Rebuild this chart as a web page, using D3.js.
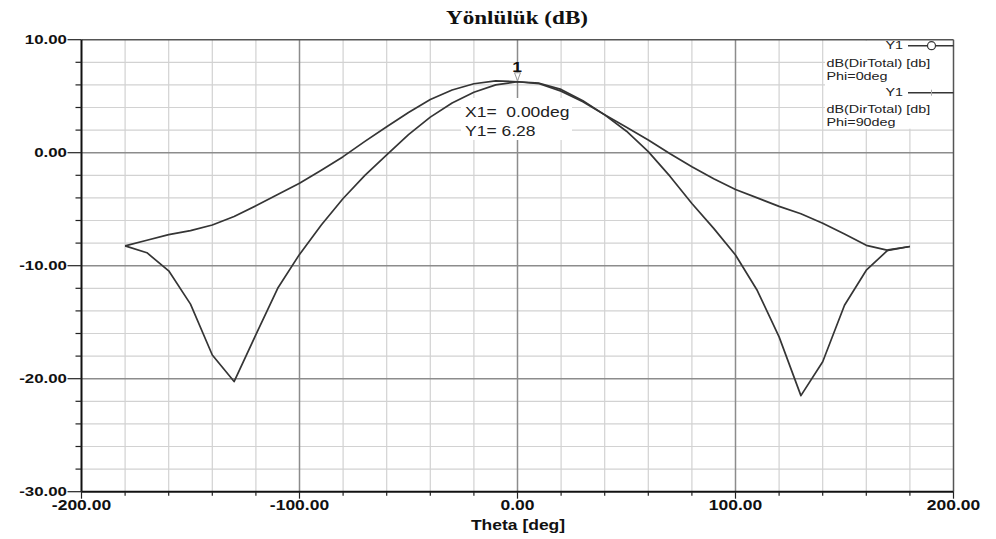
<!DOCTYPE html>
<html>
<head>
<meta charset="utf-8">
<script src="https://cdn.jsdelivr.net/npm/d3@7"></script>
<style>
    body { margin: 0; background: #fff; }
    svg { display: block; }
    text { white-space: pre; }
</style>
</head>
<body>
<div id="chart"></div>
<script>
// Yönlülük (dB) - Theta kesiti, Phi=0 ve Phi=90
const thetaDeg = [-180, -170, -160, -150, -140, -130, -120, -110, -100, -90,
    -80, -70, -60, -50, -40, -30, -20, -10, 0, 10, 20, 30, 40, 50, 60, 70, 80,
    90, 100, 110, 120, 130, 140, 150, 160, 170, 180];
const phi0Db = [-8.25, -7.75, -7.25, -6.9, -6.4, -5.65, -4.7, -3.7, -2.7, -1.55,
    -0.35, 1.0, 2.3, 3.55, 4.7, 5.55, 6.1, 6.35, 6.28, 6.15, 5.6, 4.6, 3.35, 2.25,
    1.12, -0.1, -1.24, -2.3, -3.25, -4.0, -4.75, -5.4, -6.25, -7.2, -8.2, -8.65, -8.3];
const phi90Db = [-8.25, -8.85, -10.45, -13.4, -17.9, -20.25, -16.1, -12.0, -9.0, -6.4,
    -4.05, -2.0, -0.2, 1.6, 3.15, 4.4, 5.35, 6.0, 6.28, 6.1, 5.45, 4.5, 3.35, 1.9,
    0.1, -2.1, -4.5, -6.7, -9.05, -12.2, -16.3, -21.5, -18.5, -13.5, -10.4, -8.6, -8.3];
const xTickValues = [-200, -100, 0, 100, 200];
const xTickLabels = ["-200.00", "-100.00", "0.00", "100.00", "200.00"];
const yTickValues = [10, 0, -10, -20, -30];
const yTickLabels = ["10.00", "0.00", "-10.00", "-20.00", "-30.00"];
const legendNames = ["dB(DirTotal) [db]", "dB(DirTotal) [db]"];
const legendPhi = ["Phi=0deg", "Phi=90deg"];
const markerTheta = 0;
const markerValue = 6.28;

const width = 996, height = 539;
const stretch = 1.25; // metinler yatayda biraz genis
const sansFont = "'Liberation Sans', Arial, sans-serif";
const serifFont = "'Liberation Serif', 'Times New Roman', serif";

const svg = d3.select("#chart").append("svg")
    .attr("width", width)
    .attr("height", height);

svg.append("rect").attr("width", width).attr("height", height).attr("fill", "#fff");

const x = d3.scaleLinear().domain([-200, 200]).range([81.5, 953.5]);
const y = d3.scaleLinear().domain([-30, 10]).range([491.7, 39.7]);

function addText(px, py, str, opts) {
    opts = opts || {};
    return svg.append("text")
        .attr("transform", `translate(${px},${py}) scale(${stretch},1)`)
        .attr("text-anchor", opts.anchor || "start")
        .style("font-family", opts.family || sansFont)
        .style("font-size", (opts.size || 14) + "px")
        .style("font-weight", opts.weight || "normal")
        .attr("fill", opts.color || "#111")
        .text(str);
}

// Izgara (minor)
const xMinor = x.ticks(20).filter(v => v % 100 !== 0);
const yMinor = y.ticks(20).filter(v => v % 10 !== 0);

svg.append("g").selectAll("line")
    .data(xMinor).enter().append("line")
    .attr("x1", d => x(d)).attr("x2", d => x(d))
    .attr("y1", y(10)).attr("y2", y(-30))
    .attr("stroke", "#d2d2d2").attr("stroke-width", 1.2);

svg.append("g").selectAll("line")
    .data(yMinor).enter().append("line")
    .attr("x1", x(-200)).attr("x2", x(200))
    .attr("y1", d => y(d)).attr("y2", d => y(d))
    .attr("stroke", "#d2d2d2").attr("stroke-width", 1.2);

// Izgara (major)
svg.append("g").selectAll("line")
    .data(xTickValues.slice(1, -1)).enter().append("line")
    .attr("x1", d => x(d)).attr("x2", d => x(d))
    .attr("y1", y(10)).attr("y2", y(-30))
    .attr("stroke", "#8c8c8c").attr("stroke-width", 1.5);

svg.append("g").selectAll("line")
    .data(yTickValues.slice(1, -1)).enter().append("line")
    .attr("x1", x(-200)).attr("x2", x(200))
    .attr("y1", d => y(d)).attr("y2", d => y(d))
    .attr("stroke", "#8c8c8c").attr("stroke-width", 1.5);

// Lejant ve marker kutulari icin beyaz zemin
svg.append("rect")
    .attr("x", 825).attr("y", y(10) + 1)
    .attr("width", x(200) - 825).attr("height", 88)
    .attr("fill", "#fff");

svg.append("rect")
    .attr("x", 461).attr("y", 98)
    .attr("width", 111).attr("height", 42)
    .attr("fill", "#fff");

// Egriler
const line = d3.line()
    .x((d, i) => x(thetaDeg[i]))
    .y(d => y(d));

[phi0Db, phi90Db].forEach(series => {
    svg.append("path")
        .datum(series)
        .attr("d", line)
        .attr("fill", "none")
        .attr("stroke", "#353535")
        .attr("stroke-width", 1.7)
        .attr("stroke-linejoin", "round");
});

// Cerceve
svg.append("line")
    .attr("x1", x(-200)).attr("x2", x(200)).attr("y1", y(10)).attr("y2", y(10))
    .attr("stroke", "#555").attr("stroke-width", 1.5);
svg.append("line")
    .attr("x1", x(200)).attr("x2", x(200)).attr("y1", y(10)).attr("y2", y(-30))
    .attr("stroke", "#555").attr("stroke-width", 1.5);
svg.append("line")
    .attr("x1", x(-200)).attr("x2", x(-200)).attr("y1", y(10)).attr("y2", y(-30))
    .attr("stroke", "#111").attr("stroke-width", 2);
svg.append("line")
    .attr("x1", x(-200)).attr("x2", x(200)).attr("y1", y(-30)).attr("y2", y(-30))
    .attr("stroke", "#111").attr("stroke-width", 2);

// Eksen tikleri
svg.append("g").selectAll("line")
    .data(y.ticks(20)).enter().append("line")
    .attr("x1", d => d % 10 === 0 ? x(-200) - 14 : x(-200) - 6)
    .attr("x2", x(-200))
    .attr("y1", d => y(d)).attr("y2", d => y(d))
    .attr("stroke", "#222").attr("stroke-width", 1.2);

svg.append("g").selectAll("line")
    .data(x.ticks(20)).enter().append("line")
    .attr("x1", d => x(d)).attr("x2", d => x(d))
    .attr("y1", y(-30))
    .attr("y2", d => d % 100 === 0 ? y(-30) + 7 : y(-30) + 4)
    .attr("stroke", "#222").attr("stroke-width", 1.2);

// Tik etiketleri
yTickValues.forEach((v, i) => {
    addText(67, y(v) + 4, yTickLabels[i], { anchor: "end", size: 13.5, weight: "bold" });
});
xTickValues.forEach((v, i) => {
    addText(x(v), 509.5, xTickLabels[i], { anchor: "middle", size: 14, weight: "bold" });
});

// Baslik ve eksen adi
addText(517, 23.5, "Yönlülük (dB)", {
    anchor: "middle", size: 18.5, weight: "bold", family: serifFont
});
addText(518, 529.5, "Theta [deg]", { anchor: "middle", size: 14, weight: "bold" });

// Lejant
const legendRows = [
    { y1: 49, line: 45.7, name: 66.7, phi: 80, mark: "circle" },
    { y1: 96, line: 92.7, name: 113.3, phi: 126, mark: "tick" }
];
legendRows.forEach((r, i) => {
    addText(903, r.y1, "Y1", { anchor: "end", size: 11.5, color: "#222" });
    svg.append("line")
        .attr("x1", 908).attr("x2", x(200))
        .attr("y1", r.line).attr("y2", r.line)
        .attr("stroke", "#353535").attr("stroke-width", 1.5);
    if (r.mark === "circle") {
        svg.append("circle")
            .attr("cx", 931.5).attr("cy", r.line).attr("r", 4)
            .attr("fill", "#fff").attr("stroke", "#353535").attr("stroke-width", 1.2);
    } else {
        svg.append("line")
            .attr("x1", 931.5).attr("x2", 931.5)
            .attr("y1", r.line - 3).attr("y2", r.line + 3)
            .attr("stroke", "#aaa").attr("stroke-width", 1);
    }
    addText(826.5, r.name, legendNames[i], { size: 11.5, color: "#222" });
    addText(826.5, r.phi, legendPhi[i], { size: 11.5, color: "#222" });
});

// Marker 1
const mx = x(markerTheta), my = y(markerValue);
svg.append("path")
    .attr("d", `M${mx - 3},${my - 9} L${mx + 3},${my - 9} L${mx},${my - 1} Z`)
    .attr("fill", "#fff").attr("stroke", "#999").attr("stroke-width", 1);
addText(mx - 0.5, 71.5, "1", { anchor: "middle", size: 14, weight: "bold" });
addText(465, 116.7, "X1=  " + markerTheta.toFixed(2) + "deg", { size: 14, color: "#222" });
addText(465, 136, "Y1= " + markerValue.toFixed(2), { size: 14, color: "#222" });
</script>
</body>
</html>
